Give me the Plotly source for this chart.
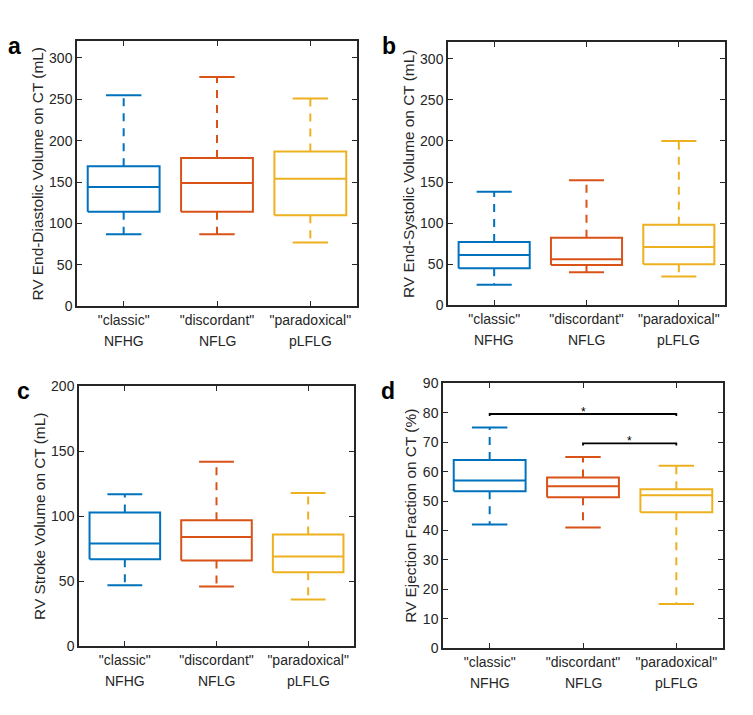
import plotly.graph_objects as go

group_names = ['"classic"', '"discordant"', '"paradoxical"']
group_codes = ["NFHG", "NFLG", "pLFLG"]
colors = ["#0072BD", "#D95319", "#EDB120"]

# per panel: lower whisker, Q1, median, Q3, upper whisker (one entry per group)
edv_low = [87, 87, 77]
edv_q1 = [114, 114, 110]
edv_med = [144, 149, 154]
edv_q3 = [169, 179, 187]
edv_high = [255, 277, 251]

esv_low = [25, 40, 35]
esv_q1 = [45, 49, 50]
esv_med = [61, 56, 71]
esv_q3 = [77, 82, 98]
esv_high = [138, 152, 200]

sv_low = [47, 46, 36]
sv_q1 = [67, 66, 57]
sv_med = [79, 84, 69]
sv_q3 = [103, 97, 86]
sv_high = [117, 142, 118]

ef_low = [42, 41, 15]
ef_q1 = [53.3, 51.3, 46.2]
ef_med = [57, 55, 52]
ef_q3 = [64, 58, 54]
ef_high = [75, 65, 62]

# significance brackets in panel d: (from group, to group, height)
sig_from = [1, 2]
sig_to = [3, 3]
sig_y = [79.6, 69.6]

panels = [
    ("a", "RV End-Diastolic Volume on CT (mL)", [0, 320], 50,
     edv_low, edv_q1, edv_med, edv_q3, edv_high),
    ("b", "RV End-Systolic Volume on CT (mL)", [0, 320], 50,
     esv_low, esv_q1, esv_med, esv_q3, esv_high),
    ("c", "RV Stroke Volume on CT (mL)", [0, 200], 50,
     sv_low, sv_q1, sv_med, sv_q3, sv_high),
    ("d", "RV Ejection Fraction on CT (%)", [0, 90], 10,
     ef_low, ef_q1, ef_med, ef_q3, ef_high),
]

# page has an 8px body margin; figure sized to fit inside the window
W, H, OFF = 737, 699, 8


def px_x(x):
    return (x - OFF) / W


def px_y(y):
    return 1 - (y - OFF) / H


# frame boxes in window pixels (left, right, top, bottom)
frames = [(77, 357, 34, 305), (448, 725, 35, 304), (79, 354, 387, 653), (443, 723, 384, 655)]
# panel letter centre x / baseline y in window pixels
letters = [(14.5, 47), (388.5, 47), (23.5, 400), (387.5, 400)]

box_half = 0.385
cap_half = 0.19
font = "Liberation Sans, Arial, sans-serif"
axcol = "#262626"

fig = go.Figure()
layout = {}
annotations = []

for p, (label, title, yr, dt, lo, q1, med, q3, hi) in enumerate(panels):
    xa = "x" if p == 0 else "x%d" % (p + 1)
    ya = "y" if p == 0 else "y%d" % (p + 1)
    for i in range(3):
        c = colors[i]
        x = i + 1
        # box
        fig.add_trace(go.Scatter(
            x=[x - box_half, x + box_half, x + box_half, x - box_half, x - box_half],
            y=[q1[i], q1[i], q3[i], q3[i], q1[i]],
            mode="lines", line=dict(color=c, width=2), xaxis=xa, yaxis=ya,
            showlegend=False, hoverinfo="skip"))
        # median
        fig.add_trace(go.Scatter(
            x=[x - box_half, x + box_half], y=[med[i], med[i]],
            mode="lines", line=dict(color=c, width=2), xaxis=xa, yaxis=ya,
            showlegend=False, hoverinfo="skip"))
        # whiskers
        fig.add_trace(go.Scatter(
            x=[x, x, None, x, x], y=[q3[i], hi[i], None, q1[i], lo[i]],
            mode="lines", line=dict(color=c, width=2, dash="8px,7px"),
            xaxis=xa, yaxis=ya, showlegend=False, hoverinfo="skip"))
        # caps
        fig.add_trace(go.Scatter(
            x=[x - cap_half, x + cap_half, None, x - cap_half, x + cap_half],
            y=[hi[i], hi[i], None, lo[i], lo[i]],
            mode="lines", line=dict(color=c, width=2), xaxis=xa, yaxis=ya,
            showlegend=False, hoverinfo="skip"))
        # second line of category label
        annotations.append(dict(
            text=group_codes[i], xref=xa, yref=ya + " domain", x=x, y=0,
            yshift=-35, yanchor="middle", showarrow=False,
            font=dict(family=font, size=14, color=axcol)))

    l, r, t, b = frames[p]
    layout["xaxis" if p == 0 else "xaxis%d" % (p + 1)] = dict(
        domain=[px_x(l), px_x(r)], anchor=ya, range=[0.5, 3.5],
        tickvals=[1, 2, 3], ticktext=group_names,
        ticks="inside", ticklen=5, tickcolor=axcol, tickwidth=1.2,
        showline=True, linecolor=axcol, linewidth=1.5, mirror="allticks",
        showgrid=False, zeroline=False,
        tickfont=dict(family=font, size=14, color=axcol))
    layout["yaxis" if p == 0 else "yaxis%d" % (p + 1)] = dict(
        domain=[px_y(b), px_y(t)], anchor=xa, range=yr, dtick=dt,
        ticks="inside", ticklen=5, tickcolor=axcol, tickwidth=1.2,
        showline=True, linecolor=axcol, linewidth=1.5, mirror="allticks",
        showgrid=False, zeroline=False,
        tickfont=dict(family=font, size=14, color=axcol),
        title=dict(text=title, font=dict(family=font, size=15.4, color=axcol),
                   standoff=2))
    lx, ly = letters[p]
    annotations.append(dict(
        text="<b>%s</b>" % label, xref="paper", yref="paper",
        x=px_x(lx), y=px_y(ly + 6), xanchor="center", yanchor="bottom",
        showarrow=False, borderpad=0,
        font=dict(family=font, size=23, color="black")))

# significance brackets for panel d
for a, b, h in zip(sig_from, sig_to, sig_y):
    fig.add_trace(go.Scatter(
        x=[a, a, b, b], y=[h - 0.7, h, h, h - 0.7],
        mode="lines", line=dict(color="black", width=1.8),
        xaxis="x4", yaxis="y4", showlegend=False, hoverinfo="skip"))
    annotations.append(dict(
        text="*", xref="x4", yref="y4", x=(a + b) / 2, y=h,
        yanchor="bottom", showarrow=False, yshift=-7,
        font=dict(family=font, size=12, color="black")))

fig.update_layout(
    width=W, height=H,
    margin=dict(l=0, r=0, t=0, b=0),
    paper_bgcolor="white", plot_bgcolor="white",
    annotations=annotations,
    **layout)

fig.write_html("out.html")
